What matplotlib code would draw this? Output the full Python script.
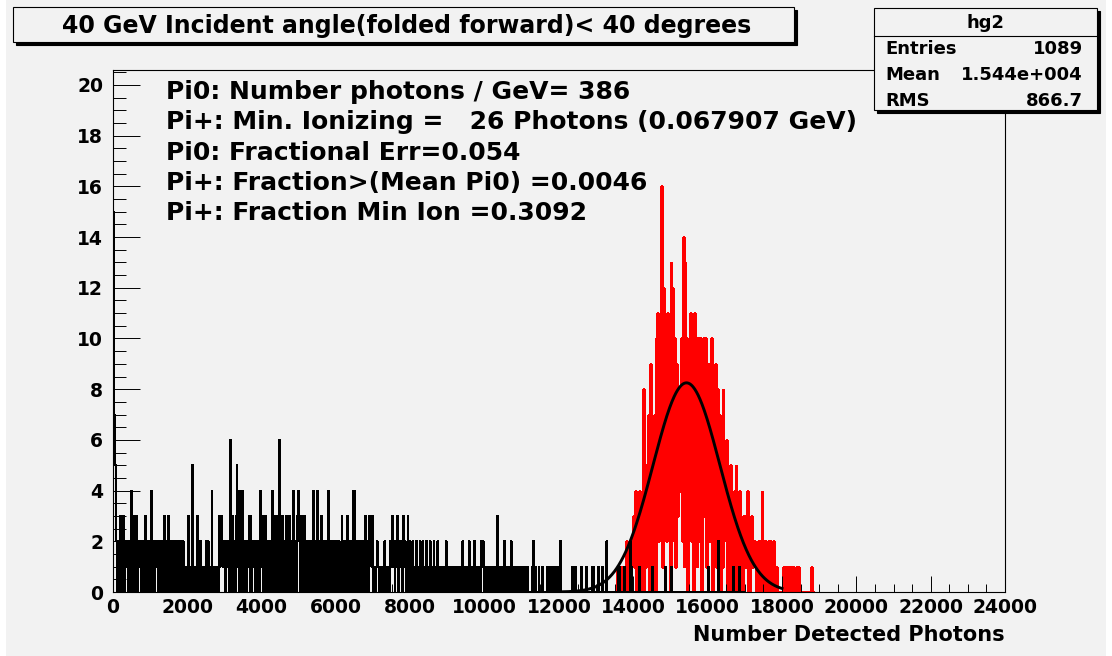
"""
ROOT-style histogram: detected photons for pi0 (red) and pi+ (black) at 40 GeV.
"""
import numpy as np
import matplotlib
matplotlib.use("Agg")
import matplotlib.pyplot as plt
from matplotlib.patches import Rectangle
from matplotlib.ticker import MultipleLocator

plt.rcParams["font.family"] = ["DejaVu Sans"]
plt.rcParams["font.weight"] = "bold"

W, H = 1112, 656
BG = "#f2f2f2"

# counts per 25-photon bin, one base-36 char per bin (a=10 ... g=16)
bin_width = 25

# pi+ (black), 0 .. 17000, one string per 1000 photons
black_start = 0
black_rows = [
    "f752020303030212020402030302120202302020",
    "0402021202020203020302021202020202020101",
    "0301051010312021010120210140101010313212",
    "2021206030203514040420202130302120202041",
    "3020302020240303030602302032030202402034",
    "2030203020120204020240203020202402020202",
    "0202013020203020204040202102020302032313",
    "0101210101012010102131202130212031201302",
    "1021012010210210120102101201021010101021",
    "0101101010101010210101021010221010102120",
    "1010110101010310100102010010200010010010",
    "1010001000012010001000100001010101011010",
    "1200000000000010010000001000010000010100",
    "0010001000020000000000010100001000002010",
    "0000001000000000000010000000000000100000",
    "0100000000000000000000000000000000000000",
    "1000000000020000000000000001000000100000",
]

# pi0 (red), 13500 .. 18800, one string per 250 photons
red_start = 13500
red_rows = [
    "0010010101",
    "1020101212",
    "3140204130",
    "8041527093",
    "5170a3b28b",
    "g1c4a2b5a0",
    "d2c5a19384",
    "7a2e1d4a09",
    "3b2a0b4a19",
    "a2a09a3a18",
    "9283a07291",
    "8270618253",
    "6040513240",
    "5130412031",
    "3140201312",
    "2101202041",
    "2020120201",
    "2010100000",
    "0101010010",
    "1010010100",
    "0000000000",
    "0100",
]

# gaussian fit to the pi0 peak
fit_const = 8.25
fit_mean = 15430
fit_sigma = 900
fit_lo, fit_hi = 12000, 18000

title = "40 GeV Incident angle(folded forward)< 40 degrees"
info_lines = [
    "Pi0: Number photons / GeV= 386",
    "Pi+: Min. Ionizing =   26 Photons (0.067907 GeV)",
    "Pi0: Fractional Err=0.054",
    "Pi+: Fraction>(Mean Pi0) =0.0046",
    "Pi+: Fraction Min Ion =0.3092",
]
stats_name = "hg2"
stats_labels = ["Entries", "Mean", "RMS"]
stats_values = ["1089", "1.544e+004", "866.7"]
x_label = "Number Detected Photons"


def decode(rows, start):
    counts = np.array([int(c, 36) for c in "".join(rows)], dtype=float)
    edges = start + bin_width * np.arange(len(counts) + 1)
    return counts, edges


def fx(px):
    return px / W


def fy(py):
    return 1 - py / H


def shadow_box(fig, x0, y0, x1, y1, z=5):
    # ROOT pave: box with a dark drop shadow on the right and bottom
    fig.patches.append(Rectangle((fx(x0 + 3), fy(y1 + 3)), fx(x1 - x0), (y1 - y0) / H,
                                 transform=fig.transFigure, facecolor="black",
                                 edgecolor="black", lw=0.8, zorder=z))
    fig.patches.append(Rectangle((fx(x0), fy(y1)), fx(x1 - x0), (y1 - y0) / H,
                                 transform=fig.transFigure, facecolor=BG,
                                 edgecolor="black", lw=0.8, zorder=z + 0.1))


fig = plt.figure(figsize=(W / 100, H / 100), dpi=100, facecolor="white")
fig.patches.append(Rectangle((fx(6), 0), fx(1100), 1, transform=fig.transFigure,
                             facecolor=BG, edgecolor="none", zorder=0))

ax = fig.add_axes([fx(113), fy(592), fx(1005 - 113), (592 - 70) / H], zorder=2)
ax.set_facecolor(BG)

red_counts, red_edges = decode(red_rows, red_start)
black_counts, black_edges = decode(black_rows, black_start)

ax.stairs(red_counts, red_edges, color="red", lw=0.8, antialiased=False)
ax.stairs(black_counts, black_edges, color="black", lw=0.7, antialiased=False)

xf = np.linspace(fit_lo, fit_hi, 400)
yf = fit_const * np.exp(-0.5 * ((xf - fit_mean) / fit_sigma) ** 2)
ax.plot(xf, yf, color="black", lw=2.1)

ax.set_xlim(0, 24000)
ax.set_ylim(0, 20.59)
ax.xaxis.set_major_locator(MultipleLocator(2000))
ax.xaxis.set_minor_locator(MultipleLocator(500))
ax.yaxis.set_major_locator(MultipleLocator(2))
ax.yaxis.set_minor_locator(MultipleLocator(0.5))
ax.tick_params(axis="x", which="major", direction="in", length=11.3, width=0.7,
               labelsize=13.5, pad=4)
ax.tick_params(axis="x", which="minor", direction="in", length=5.6, width=0.7)
ax.tick_params(axis="y", which="major", direction="in", length=19.4, width=0.7,
               labelsize=13.5, pad=7)
ax.tick_params(axis="y", which="minor", direction="in", length=9.2, width=0.7)
for lab in ax.get_xticklabels() + ax.get_yticklabels():
    lab.set_fontweight("bold")
for sp in ax.spines.values():
    sp.set_linewidth(0.8)

fig.text(fx(1005), fy(635), x_label, ha="right", va="center", fontsize=15,
         fontweight="bold")

for i, line in enumerate(info_lines):
    fig.text(fx(166), fy(99 + 30.3 * i), line, ha="left", va="baseline",
             fontsize=18, fontweight="bold", zorder=4)

# title pave
shadow_box(fig, 13, 7, 794, 42)
fig.text(fx(407), fy(33), title, ha="center", va="baseline", fontsize=17,
         fontweight="bold", zorder=7)

# stats pave
shadow_box(fig, 874, 8, 1097, 110)
fig.lines.append(plt.Line2D([fx(874), fx(1097)], [fy(36), fy(36)],
                            transform=fig.transFigure, color="black", lw=0.8, zorder=6))
fig.text(fx(985), fy(28), stats_name, ha="center", va="baseline", fontsize=13,
         fontweight="bold", zorder=7)
for i, (lab, val) in enumerate(zip(stats_labels, stats_values)):
    yb = fy(54 + 26 * i)
    fig.text(fx(885), yb, lab, ha="left", va="baseline", fontsize=13,
             fontweight="bold", zorder=7)
    fig.text(fx(1083), yb, val, ha="right", va="baseline", fontsize=13,
             fontweight="bold", zorder=7)

fig.savefig("out.png", dpi=100, facecolor=fig.get_facecolor())
